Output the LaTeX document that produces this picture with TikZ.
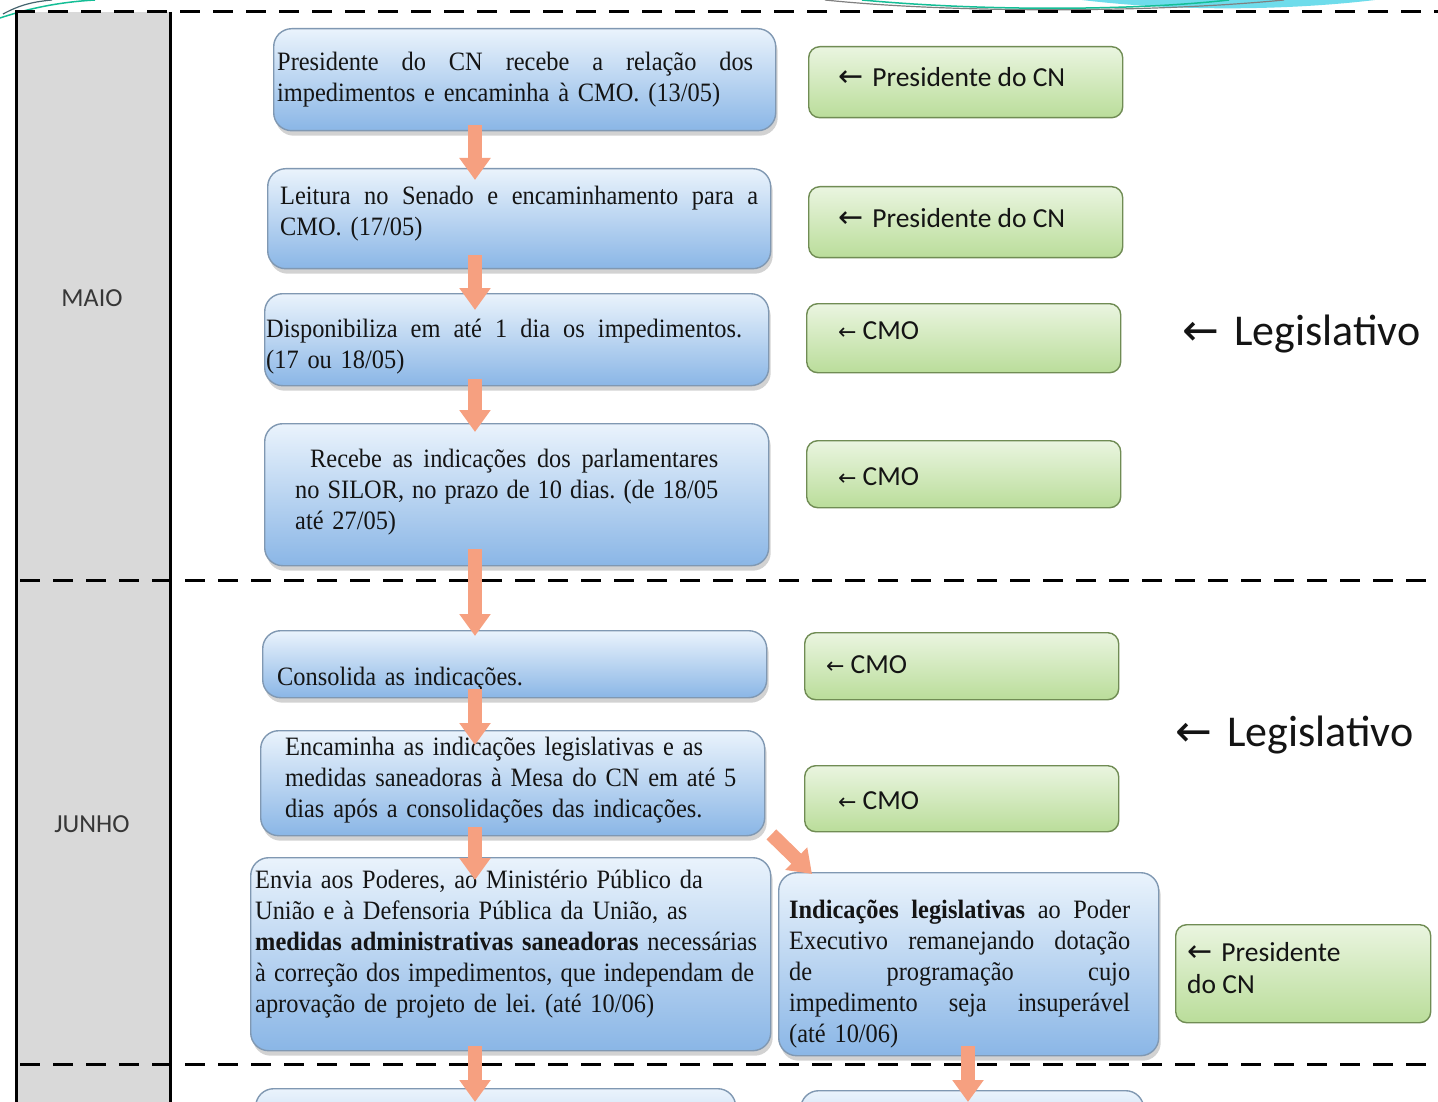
\documentclass[tikz,border=0pt]{standalone}
\usepackage{fontspec}
\setmainfont{Liberation Serif}
\newfontfamily\serifbody[FakeStretch=0.92]{Liberation Serif}
\newfontfamily\calib{Carlito}
\newfontfamily\arrowfont{DejaVu Sans}
\usetikzlibrary{shadows,arrows.meta,calc}
\definecolor{bluetop}{RGB}{234,243,252}
\definecolor{bluebot}{RGB}{138,182,230}
\definecolor{blueline}{RGB}{128,152,178}
\definecolor{greentop}{RGB}{234,245,224}
\definecolor{greenbot}{RGB}{186,221,154}
\definecolor{greenline}{RGB}{112,140,84}
\definecolor{arrowc}{RGB}{246,160,128}
\definecolor{colgray}{RGB}{217,217,217}
\definecolor{txt}{RGB}{20,20,20}
\definecolor{decoteal}{RGB}{20,190,150}
\definecolor{decoslate}{RGB}{70,100,110}
\definecolor{decocyan}{RGB}{110,220,235}
\newcommand{\sj}[2]{\makebox[#1pt][s]{\spaceskip=0.25em plus 1fil\relax #2}}
\tikzset{
  bluebox/.style={draw=blueline, line width=1.4pt, rounded corners=18pt,
    top color=bluetop, bottom color=bluebot, anchor=north west, inner sep=0pt,
    drop shadow={shadow xshift=2pt, shadow yshift=-5pt, opacity=0.35}},
  greenbox/.style={draw=greenline, line width=1.4pt, rounded corners=11pt,
    top color=greentop, bottom color=greenbot, anchor=north west, inner sep=0pt},
  bluetext/.style={anchor=north west, inner sep=0pt, text width=530pt, align=left,
    text=txt, font={\serifbody\fontsize{26.5}{31}\selectfont\frenchspacing}},
  greentext/.style={anchor=west, inner sep=0pt, text=txt, font={\calib\fontsize{27.5}{32}\selectfont}},
  monthtext/.style={inner sep=0pt, text=txt!85, font={\calib\fontsize{26}{30}\selectfont}},
  legtext/.style={anchor=west, inner sep=0pt, text=txt, font={\calib\fontsize{44}{48}\selectfont}},
  bigarrow/.style={draw=arrowc, line width=14pt, -{Triangle[width=30pt,length=22pt]}},
  dashline/.style={draw=black, line width=3pt, dash pattern=on 20pt off 13pt},
}
\newcommand{\bigarr}{{\arrowfont\fontsize{30}{30}\selectfont ←}}
\newcommand{\smallarr}{{\arrowfont\fontsize{22}{22}\selectfont ←}}
\newcommand{\legarr}{{\arrowfont\fontsize{44}{44}\selectfont ←}}
\begin{document}
\begin{tikzpicture}[x=1pt,y=-1pt]
\clip (0,0) rectangle (1438,1102);
\fill[white] (0,0) rectangle (1438,1102);
% decorations at top
\draw[decoslate, line width=1.2pt] (3,14) .. controls (18,6) and (30,2) .. (52,0);
\draw[decoteal, line width=1.5pt] (0,18) .. controls (30,8) and (60,2) .. (95,0);
\fill[decocyan] (1082,0) .. controls (1190,13) and (1300,9) .. (1375,0) -- cycle;
\draw[gray, line width=1.2pt] (825,0) .. controls (950,13) and (1150,13) .. (1284,0);
\draw[decoteal, line width=1.5pt] (862,0) .. controls (980,11) and (1130,11) .. (1229,0);
% month column
\fill[colgray] (16,12) rectangle (170,1102);
\draw[line width=3pt] (16,12) -- (16,1102);
\draw[line width=3pt] (170,12) -- (170,1102);
\node[monthtext] (maio) at (92,298) {MAIO};
\node[monthtext] (junho) at (92,824) {JUNHO};
% dashed separators
\draw[dashline] (15,12) -- (1438,12);
\draw[dashline] (20,580) -- (1438,580);
\draw[dashline] (20,1064) -- (1438,1064);
% blue boxes
\node[bluebox, minimum width=502pt, minimum height=102pt] (b1) at (273,28) {};
\node[bluebox, minimum width=503pt, minimum height=100pt] (b2) at (267,168) {};
\node[bluebox, minimum width=504pt, minimum height=92pt] (b3) at (264,293) {};
\node[bluebox, minimum width=504pt, minimum height=142pt] (b4) at (264,423) {};
\node[bluebox, minimum width=504pt, minimum height=67pt] (b5) at (262,630) {};
\node[bluebox, minimum width=504pt, minimum height=105pt] (b6) at (260,730) {};
\node[bluebox, minimum width=520pt, minimum height=193pt] (b7) at (250,857) {};
\node[bluebox, minimum width=380pt, minimum height=183pt] (b8) at (778,872) {};
\node[bluebox, minimum width=480pt, minimum height=112pt] (b9) at (255,1088) {};
\node[bluebox, minimum width=343pt, minimum height=110pt] (b10) at (800,1090) {};
% blue texts
\node[bluetext] (t1) at (277,49) {\strut\sj{476}{Presidente do CN recebe a relação dos}\\impedimentos e encaminha à CMO. (13/05)};
\node[bluetext] (t2) at (280,183) {\strut\sj{478}{Leitura no Senado e encaminhamento para a}\\CMO. (17/05)};
\node[bluetext] (t3) at (266,316) {\strut\sj{476}{Disponibiliza em até 1 dia os impedimentos.}\\(17 ou 18/05)};
\node[bluetext] (t4) at (295,446) {\strut\hspace*{15pt}\sj{408}{Recebe as indicações dos parlamentares}\\\sj{423}{no SILOR, no prazo de 10 dias. (de 18/05}\\até 27/05)};
\node[bluetext] (t5) at (277,664) {\strut Consolida as indicações.};
\node[bluetext] (t6) at (285,734) {\strut Encaminha as indicações legislativas e as\\medidas saneadoras à Mesa do CN em até 5\\dias após a consolidações das indicações.};
\node[bluetext] (t7) at (255,867) {\strut Envia aos Poderes, ao Ministério Público da\\União e à Defensoria Pública da União, as\\\textbf{medidas administrativas saneadoras} necessárias\\\sj{499}{à correção dos impedimentos, que independam de}\\aprovação de projeto de lei. (até 10/06)};
\node[bluetext] (t8) at (789,897) {\strut\sj{341}{\textbf{Indicações legislativas} ao Poder}\\\sj{341}{Executivo remanejando dotação}\\\sj{341}{de programação cujo}\\\sj{341}{impedimento seja insuperável}\\(até 10/06)};
% green boxes
\node[greenbox, minimum width=314pt, minimum height=71pt] (g1) at (808,46) {};
\node[greenbox, minimum width=314pt, minimum height=71pt] (g2) at (808,186) {};
\node[greenbox, minimum width=314pt, minimum height=69pt] (g3) at (806,303) {};
\node[greenbox, minimum width=314pt, minimum height=67pt] (g4) at (806,440) {};
\node[greenbox, minimum width=314pt, minimum height=67pt] (g5) at (804,632) {};
\node[greenbox, minimum width=314pt, minimum height=66pt] (g6) at (804,765) {};
\node[greenbox, minimum width=255pt, minimum height=98pt] (g7) at (1175,924) {};
\node[greentext] (gt1) at (838,77) {\bigarr\hspace{9pt}Presidente do CN};
\node[greentext] (gt2) at (838,218) {\bigarr\hspace{9pt}Presidente do CN};
\node[greentext] (gt3) at (838,331) {\smallarr\hspace{6pt}CMO};
\node[greentext] (gt4) at (838,477) {\smallarr\hspace{6pt}CMO};
\node[greentext] (gt5) at (826,665) {\smallarr\hspace{6pt}CMO};
\node[greentext] (gt6) at (838,801) {\smallarr\hspace{6pt}CMO};
\node[greentext, anchor=north west, align=left] (gt7) at (1187,942) {\bigarr\hspace{9pt}Presidente\\do CN};
% legislativo labels
\node[legtext] (leg1) at (1182,334) {\legarr\hspace{15pt}Legislativo};
\node[legtext] (leg2) at (1175,735) {\legarr\hspace{15pt}Legislativo};
% arrows
\coordinate (ax) at (475,0);
\coordinate (bx) at (968,0);
\draw[bigarrow] ([yshift=6pt]b1.south -| ax) -- ([yshift=-12pt]b2.north -| ax);
\draw[bigarrow] ([yshift=14pt]b2.south -| ax) -- ([yshift=-17pt]b3.north -| ax);
\draw[bigarrow] ([yshift=7pt]b3.south -| ax) -- ([yshift=-9pt]b4.north -| ax);
\draw[bigarrow] ([yshift=17pt]b4.south -| ax) -- ([yshift=-6pt]b5.north -| ax);
\draw[bigarrow] ([yshift=9pt]b5.south -| ax) -- ([yshift=-15pt]b6.north -| ax);
\draw[bigarrow] ([yshift=9pt]b6.south -| ax) -- ([yshift=-23pt]b7.north -| ax);
\draw[bigarrow] ([yshift=5pt]b7.south -| ax) -- ([yshift=-14pt]b9.north -| ax);
\draw[bigarrow] ([yshift=10pt]b8.south -| bx) -- ([yshift=-12pt]b10.north -| bx);
\draw[bigarrow] ($(b6.south east)+(6,-2)$) -- ($(b8.north west)+(34,2)$);
\end{tikzpicture}
\end{document}
